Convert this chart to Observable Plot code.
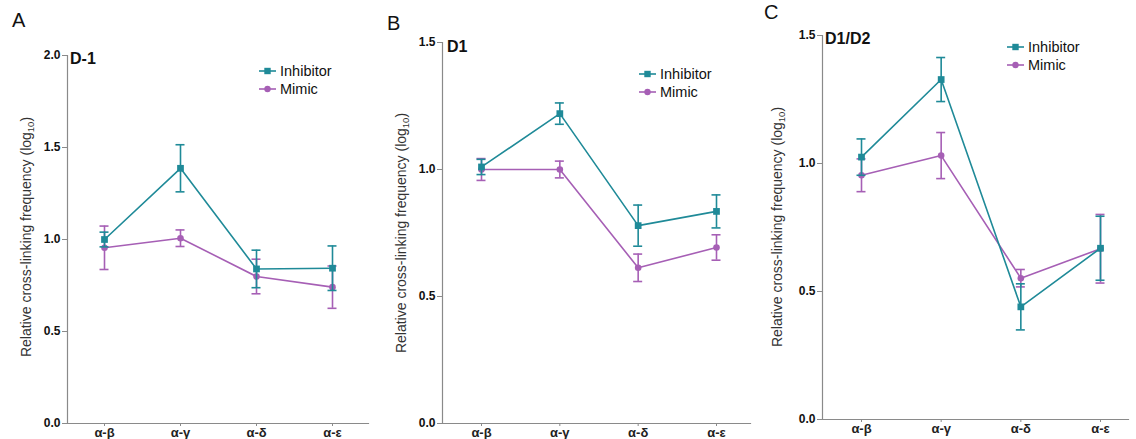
<!DOCTYPE html>
<html>
<head>
<meta charset="utf-8">
<script src="https://cdn.jsdelivr.net/npm/d3@7"></script>
<script src="https://cdn.jsdelivr.net/npm/@observablehq/plot@0.6"></script>
<style>
  html, body { margin: 0; padding: 0; background: #fff; }
  #wrap { position: relative; width: 1136px; height: 439px; overflow: hidden; font-family: Arial, "Liberation Sans", Helvetica, sans-serif; }
  .panel { position: absolute; top: 0; }
  .panel svg { overflow: visible; }
  .abs { position: absolute; white-space: nowrap; color: #111; }
  .letter { font-size: 20px; line-height: 1; }
  .title { font-size: 16px; font-weight: bold; line-height: 1; }
  .ylab { font-size: 14px; color: #333; transform-origin: center center; transform: translate(-50%, -50%) rotate(-90deg); }
  .ylab sub { font-size: 9.5px; }
  .legend { position: absolute; }
  .legend text { font-size: 14.5px; fill: #111; font-family: Arial, "Liberation Sans", Helvetica, sans-serif; }
</style>
</head>
<body>
<div id="wrap"></div>
<script>
// ---------- data ----------
const categories = ["α-β", "α-γ", "α-δ", "α-ε"];
const seriesNames = ["Inhibitor", "Mimic"];
const panelLetters = ["A", "B", "C"];
const panelTitles = ["D-1", "D1", "D1/D2"];

// Panel A (D-1)
const aInhibitor = [1.00, 1.387, 0.840, 0.844];
const aInhibitorErr = [0.040, 0.128, 0.102, 0.121];
const aMimic = [0.955, 1.007, 0.799, 0.741];
const aMimicErr = [0.118, 0.045, 0.094, 0.115];
const aTicks = [0.0, 0.5, 1.0, 1.5, 2.0];

// Panel B (D1)
const bInhibitor = [1.010, 1.220, 0.779, 0.835];
const bInhibitorErr = [0.030, 0.042, 0.081, 0.065];
const bMimic = [1.000, 1.000, 0.613, 0.693];
const bMimicErr = [0.043, 0.033, 0.054, 0.050];
const bTicks = [0.0, 0.5, 1.0, 1.5];

// Panel C (D1/D2)
const cInhibitor = [1.025, 1.328, 0.440, 0.669];
const cInhibitorErr = [0.071, 0.086, 0.090, 0.125];
const cMimic = [0.954, 1.031, 0.552, 0.667];
const cMimicErr = [0.064, 0.090, 0.034, 0.134];
const cTicks = [0.0, 0.5, 1.0, 1.5];

const yLabelHTML = 'Relative cross-linking frequency (log<sub>10</sub>)';

// ---------- style ----------
const colors = {Inhibitor: "#1f8a98", Mimic: "#a65fb5"};
const axisColor = "#8a8a8a";

const panels = [
  {left: 0, width: 380, ml: 67, mr: 12, mt: 55, mb: 16, xr: [104, 332], ticks: aTicks,
   inh: aInhibitor, inhE: aInhibitorErr, mim: aMimic, mimE: aMimicErr,
   letter: [12, 10], title: [70, 51], ylab: [27, 237], legend: [258, 71, 18]},
  {left: 380, width: 376, ml: 62, mr: 6, mt: 42, mb: 16, xr: [101, 336], ticks: bTicks,
   inh: bInhibitor, inhE: bInhibitorErr, mim: bMimic, mimE: bMimicErr,
   letter: [387, 13], title: [447, 39], ylab: [402, 233], legend: [638, 74, 18]},
  {left: 760, width: 376, ml: 62, mr: 8, mt: 35, mb: 20, xr: [101, 340], ticks: cTicks,
   inh: cInhibitor, inhE: cInhibitorErr, mim: cMimic, mimE: cMimicErr,
   letter: [764, 2], title: [825, 31], ylab: [778, 227], legend: [1006, 47, 18]}
];

const wrap = document.getElementById("wrap");

panels.forEach((p, k) => {
  const rows = [];
  [[seriesNames[1], p.mim, p.mimE], [seriesNames[0], p.inh, p.inhE]].forEach(([s, vals, errs]) => {
    categories.forEach((c, i) => rows.push({series: s, i, cat: c, v: vals[i], e: errs[i]}));
  });
  const capHalf = 4.5 / ((p.xr[1] - p.xr[0]) / 3); // cap half-width in index units
  const marks = [];
  marks.push(Plot.frame({anchor: "left", stroke: axisColor, strokeWidth: 1.2}));
  marks.push(Plot.frame({anchor: "bottom", stroke: axisColor, strokeWidth: 1.2}));
  marks.push(Plot.axisY({ticks: p.ticks, tickFormat: d3.format(".1f"), tickSize: 5, tickPadding: 2, stroke: axisColor, fill: "#111", fontSize: 12, fontWeight: "bold", label: null}));
  marks.push(Plot.axisX({ticks: [0, 1, 2, 3], tickFormat: i => categories[i], tickSize: 3, tickPadding: 1, stroke: axisColor, fill: "#222", fontSize: 13, fontWeight: "bold", label: null}));
  for (const s of [seriesNames[1], seriesNames[0]]) {
    const r = rows.filter(d => d.series === s);
    const col = colors[s];
    marks.push(Plot.ruleX(r, {x: "i", y1: d => d.v - d.e, y2: d => d.v + d.e, stroke: col, strokeWidth: 1.6}));
    marks.push(Plot.ruleY(r, {y: d => d.v + d.e, x1: d => d.i - capHalf, x2: d => d.i + capHalf, stroke: col, strokeWidth: 1.6}));
    marks.push(Plot.ruleY(r, {y: d => d.v - d.e, x1: d => d.i - capHalf, x2: d => d.i + capHalf, stroke: col, strokeWidth: 1.6}));
    marks.push(Plot.line(r, {x: "i", y: "v", stroke: col, strokeWidth: 1.6}));
    marks.push(Plot.dot(r, {x: "i", y: "v", symbol: s === "Inhibitor" ? "square" : "circle", r: s === "Inhibitor" ? 3.8 : 3.3, fill: col, stroke: "none"}));
  }
  const chart = Plot.plot({
    width: p.width, height: 439,
    marginLeft: p.ml, marginRight: p.mr, marginTop: p.mt, marginBottom: p.mb,
    style: {fontFamily: 'Arial, "Liberation Sans", Helvetica, sans-serif', background: "transparent", overflow: "visible"},
    x: {type: "linear", domain: [0, 3], range: p.xr},
    y: {domain: [0, p.ticks[p.ticks.length - 1]]},
    marks
  });
  const div = document.createElement("div");
  div.className = "panel";
  div.style.left = p.left + "px";
  div.appendChild(chart);
  wrap.appendChild(div);

  // panel letter
  const L = document.createElement("div");
  L.className = "abs letter"; L.textContent = panelLetters[k];
  L.style.left = p.letter[0] + "px"; L.style.top = p.letter[1] + "px";
  wrap.appendChild(L);
  // panel title
  const T = document.createElement("div");
  T.className = "abs title"; T.textContent = panelTitles[k];
  T.style.left = p.title[0] + "px"; T.style.top = p.title[1] + "px";
  wrap.appendChild(T);
  // y label
  const Y = document.createElement("div");
  Y.className = "abs ylab"; Y.innerHTML = yLabelHTML;
  Y.style.left = p.ylab[0] + "px"; Y.style.top = p.ylab[1] + "px";
  wrap.appendChild(Y);
  // legend
  const [lx, ly, gap] = p.legend;
  const svg = d3.select(wrap).append("svg").attr("class", "legend")
    .attr("width", 120).attr("height", 40)
    .style("left", lx + "px").style("top", (ly - 10) + "px");
  seriesNames.forEach((s, j) => {
    const g = svg.append("g").attr("transform", `translate(0,${10 + j * gap})`);
    g.append("line").attr("x1", 1).attr("x2", 18).attr("stroke", colors[s]).attr("stroke-width", 1.6);
    if (s === "Inhibitor") g.append("rect").attr("x", 6.3).attr("y", -3.2).attr("width", 6.4).attr("height", 6.4).attr("fill", colors[s]);
    else g.append("circle").attr("cx", 9.5).attr("cy", 0).attr("r", 3.2).attr("fill", colors[s]);
    g.append("text").attr("x", 22).attr("dy", "0.36em").text(s);
  });
});
</script>
</body>
</html>
